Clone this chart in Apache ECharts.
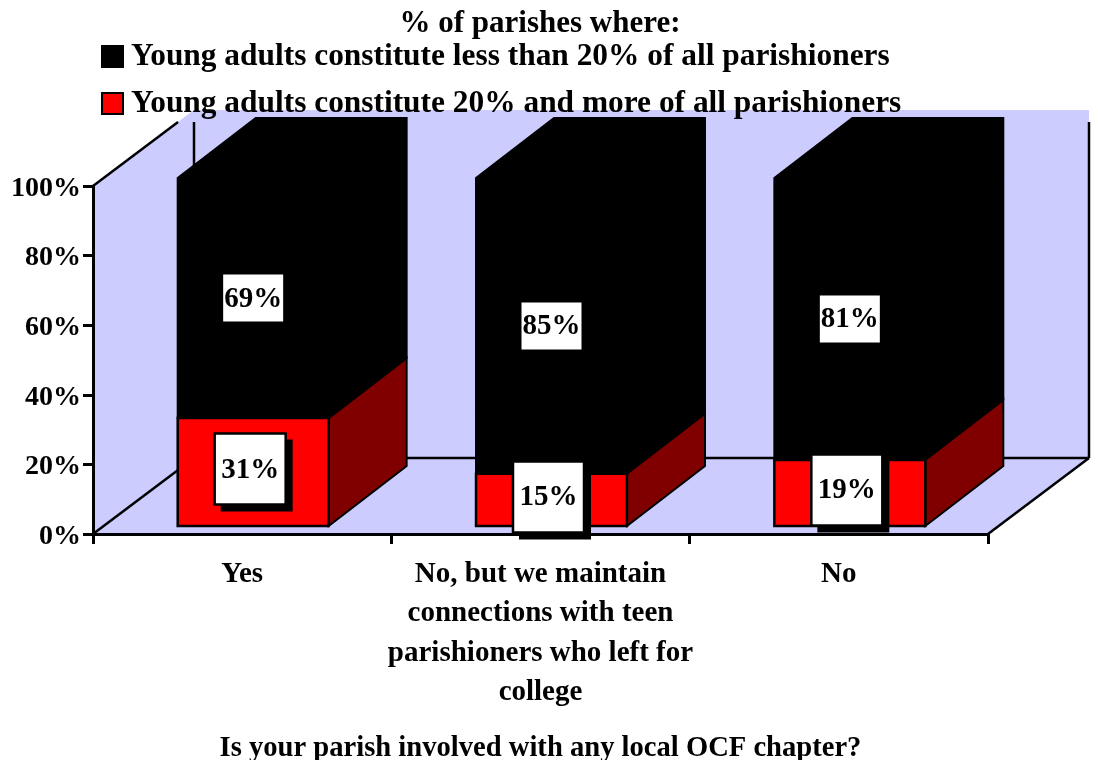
<!DOCTYPE html>
<html><head><meta charset="utf-8">
<style>html,body{margin:0;padding:0;background:#fff}#c{width:1098px;height:760px}</style>
<script src="https://cdn.jsdelivr.net/npm/echarts@6/dist/echarts.min.js"></script>
</head><body><div id="c"></div>
<script>
const categories = ['Yes', 'No, but we maintain\nconnections with teen\nparishioners who left for\ncollege', 'No'];
const lowShare = [69, 85, 81];
const highShare = [31, 15, 19];
const seriesNames = ['Young adults constitute less than 20% of all parishioners', 'Young adults constitute 20% and more of all parishioners'];
const chartTitle = '% of parishes where:';
const axisTitle = 'Is your parish involved with any local OCF chapter?';

const FONT = '"Liberation Serif"';
const WALL_DX = 101, WALL_DY = -76;   // depth of the plot box
const BAR_DX = 78, BAR_DY = -60;      // depth of each bar
const OFF_X = 11, OFF_Y = -8;         // bar inset on the floor
const BAR_RATIO = 0.506;

function line(a, b, w) {
  return { type: 'line', shape: { x1: a[0], y1: a[1], x2: b[0], y2: b[1] }, style: { stroke: '#000', lineWidth: w || 2.5 } };
}
function poly(points, fill, stroke) {
  return { type: 'polygon', shape: { points }, style: { fill, stroke: stroke || fill, lineWidth: 2, lineJoin: 'miter' } };
}
function renderWalls(params, api) {
  const r = params.coordSys;
  const x0 = r.x, x1 = r.x + r.width, yT = r.y, yB = r.y + r.height;
  const bL = x0 + WALL_DX, bR = x1 + WALL_DX, bB = yB + WALL_DY, bT = yT + WALL_DY;
  const cut = yT - 64;
  const tCut = -64 / WALL_DY;
  return { type: 'group', children: [
    { type: 'polygon', shape: { points: [[x0, yT], [bL, bT], [bR, bT], [bR, bB], [x1, yB], [x0, yB]] }, style: { fill: '#CCCCFF' } },
    line([x0, yT], [x0 + WALL_DX * tCut, cut]),
    line([bL, cut], [bL, bB]),
    line([bR, cut], [bR, bB]),
    line([bL, bB], [bR, bB]),
    line([x0, yB], [bL, bB]),
    line([x1, yB], [bR, bB])
  ] };
}
function labelParts(cx, cy, text, w, h, framed) {
  const parts = [];
  if (framed) parts.push({ type: 'rect', shape: { x: cx - w / 2 + 6, y: cy - h / 2 + 6, width: w + 1, height: h + 1 }, style: { fill: '#000' } });
  parts.push({ type: 'rect', shape: { x: cx - w / 2, y: cy - h / 2, width: w, height: h },
    style: { fill: '#fff', stroke: framed ? '#000' : null, lineWidth: framed ? 2.5 : 0 } });
  parts.push({ type: 'text', style: { x: cx, y: cy + 1, text, fill: '#000', font: 'bold 29px ' + FONT, align: 'center', verticalAlign: 'middle' } });
  return parts;
}
function renderBar(kind) {
  return function (params, api) {
    const i = api.value(0), v = api.value(1), base = api.value(2);
    const band = api.size([1, 0])[0], w = band * BAR_RATIO;
    const c0 = api.coord([i, base]), c1 = api.coord([i, base + v]);
    const xL = c0[0] - w / 2 + OFF_X, xR = xL + w, yB = c0[1] + OFF_Y, yT = c1[1] + OFF_Y;
    const cx = (xL + xR) / 2, cy = (yB + yT) / 2;
    const txt = v + '%';
    if (kind === 'low') {
      return { type: 'group', children: [
        poly([[xL, yB], [xL, yT], [xL + BAR_DX, yT + BAR_DY], [xR + BAR_DX, yT + BAR_DY], [xR + BAR_DX, yB + BAR_DY], [xR, yB]], '#000')
      ].concat(labelParts(cx, cy, txt, 60, 47, false)) };
    }
    return { type: 'group', children: [
      poly([[xR, yB], [xR, yT], [xR + BAR_DX, yT + BAR_DY], [xR + BAR_DX, yB + BAR_DY]], '#800000', '#000'),
      { type: 'rect', shape: { x: xL, y: yT, width: w, height: yB - yT }, style: { fill: '#FF0000', stroke: '#000', lineWidth: 2.5 } }
    ].concat(labelParts(cx - 3, cy - 3, txt, 71, 71, true)) };
  };
}
const chart = echarts.init(document.getElementById('c'), null, { renderer: 'canvas' });
chart.setOption({
  animation: false,
  backgroundColor: '#fff',
  title: { text: chartTitle, left: 535, textAlign: 'center', top: 3,
    textStyle: { fontFamily: FONT, fontWeight: 'bold', fontSize: 31, color: '#000' } },
  legend: {
    data: seriesNames, orient: 'vertical', left: 101, top: 41, itemWidth: 21, itemHeight: 21, itemGap: 16, padding: 0,
    selectedMode: false, icon: 'rect',
    textStyle: { fontFamily: FONT, fontWeight: 'bold', fontSize: 31.4, color: '#000', padding: [0, 0, 0, 3] }
  },
  grid: { left: 93, top: 186, width: 895, height: 348, outerBoundsMode: 'none' },
  xAxis: {
    type: 'category', data: categories, z: 2,
    axisLine: { lineStyle: { color: '#000', width: 3 } },
    axisTick: { show: true, length: 10, lineStyle: { color: '#000', width: 3 } },
    axisLabel: { interval: 0, margin: 21, color: '#000', fontFamily: FONT, fontWeight: 'bold', fontSize: 29, lineHeight: 39.3 },
    name: axisTitle, nameLocation: 'middle', nameGap: 200,
    nameTextStyle: { color: '#000', fontFamily: FONT, fontWeight: 'bold', fontSize: 28.6 }
  },
  yAxis: {
    type: 'value', min: 0, max: 100, interval: 20, z: 2,
    axisLine: { show: true, lineStyle: { color: '#000', width: 3 } },
    axisTick: { show: true, length: 10, lineStyle: { color: '#000', width: 3 } },
    axisLabel: { formatter: '{t|{value}%}', margin: 12,
      rich: { t: { padding: [5, 0, 0, 0], color: '#000', fontFamily: FONT, fontWeight: 'bold', fontSize: 28 } } },
    splitLine: { show: false }
  },
  series: [
    { type: 'custom', name: 'walls', z: 1, silent: true, clip: false, renderItem: renderWalls, data: [[0, 0]] },
    { type: 'custom', name: seriesNames[0], z: 3, clip: false, renderItem: renderBar('low'),
      itemStyle: { color: '#000', borderColor: '#000', borderWidth: 2 },
      data: lowShare.map((v, i) => [i, v, highShare[i]]) },
    { type: 'custom', name: seriesNames[1], z: 4, clip: false, renderItem: renderBar('high'),
      itemStyle: { color: '#FF0000', borderColor: '#000', borderWidth: 2 },
      data: highShare.map((v, i) => [i, v, 0]) }
  ]
});
</script></body></html>
